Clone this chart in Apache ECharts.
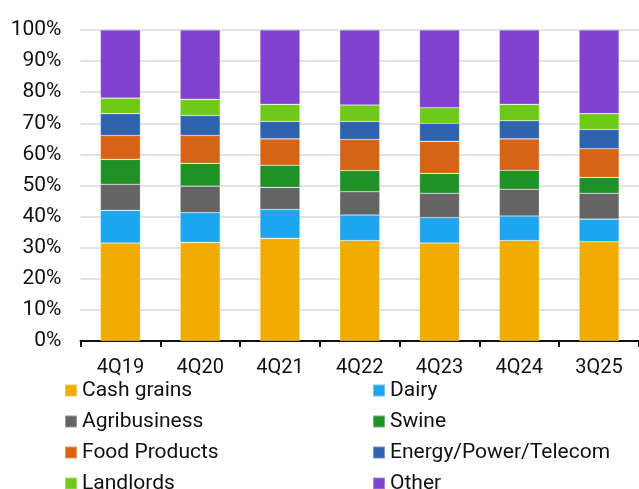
<!DOCTYPE html>
<html>
<head>
<meta charset="utf-8">
<script src="https://cdn.jsdelivr.net/npm/echarts@6/dist/echarts.min.js"></script>
<style>
  html, body { margin: 0; padding: 0; background: #fff; }
  #chart { width: 639px; height: 489px; }
</style>
</head>
<body>
<div id="chart"></div>
<script>
// Loan portfolio mix by sector, share of total (%)
const quarters = ['4Q19', '4Q20', '4Q21', '4Q22', '4Q23', '4Q24', '3Q25'];
const cashGrains  = [31.5, 31.7, 33.0, 32.3, 31.5, 32.3, 31.9];
const dairy       = [10.5,  9.6,  9.3,  8.2,  8.2,  7.9,  7.3];
const agribusiness= [ 8.4,  8.5,  7.1,  7.5,  7.8,  8.6,  8.3];
const swine       = [ 8.0,  7.3,  7.1,  6.8,  6.4,  6.1,  5.1];
const foodProducts= [ 7.7,  9.0,  8.5, 10.0, 10.3, 10.1,  9.2];
const energy      = [ 7.0,  6.4,  5.6,  5.8,  5.8,  5.8,  6.2];
const landlords   = [ 5.0,  5.2,  5.5,  5.3,  5.0,  5.3,  5.1];
const other       = [21.9, 22.3, 23.9, 24.1, 25.0, 23.9, 26.9];

const yTicks = [0, 10, 20, 30, 40, 50, 60, 70, 80, 90, 100];

const seriesDefs = [
  { name: 'Cash grains', data: cashGrains, color: '#F0AC00' },
  { name: 'Dairy', data: dairy, color: '#1EA5F0' },
  { name: 'Agribusiness', data: agribusiness, color: '#646464' },
  { name: 'Swine', data: swine, color: '#209127' },
  { name: 'Food Products', data: foodProducts, color: '#D66414' },
  { name: 'Energy/Power/Telecom', data: energy, color: '#2E63B0' },
  { name: 'Landlords', data: landlords, color: '#6FC918' },
  { name: 'Other', data: other, color: '#8042CF' }
];

const font = 'Roboto, "Liberation Sans", sans-serif';
const chart = echarts.init(document.getElementById('chart'), null, { renderer: 'canvas' });

const legendCommon = {
  orient: 'vertical',
  icon: 'rect',
  itemWidth: 12,
  itemHeight: 12,
  itemGap: 10,
  height: 130,
  selectedMode: false,
  textStyle: { fontFamily: font, fontSize: 21, color: '#111', lineHeight: 20 }
};

chart.setOption({
  animation: false,
  backgroundColor: '#ffffff',
  grid: { left: 80.5, top: 30, width: 567, height: 311 },
  legend: [
    Object.assign({ left: 59, top: 375,
      data: ['Cash grains', 'Agribusiness', 'Food Products', 'Landlords'] }, legendCommon),
    Object.assign({ left: 367, top: 375,
      data: ['Dairy', 'Swine', 'Energy/Power/Telecom', 'Other'] }, legendCommon)
  ],
  xAxis: {
    type: 'category',
    data: quarters,
    axisLine: { lineStyle: { color: '#111', width: 2 } },
    axisTick: { show: true, length: 6, lineStyle: { color: '#111', width: 2 } },
    axisLabel: { fontFamily: font, fontSize: 20, color: '#111', margin: 17 }
  },
  yAxis: {
    type: 'value',
    min: yTicks[0],
    max: yTicks[yTicks.length - 1],
    interval: 10,
    axisLine: { show: false },
    axisTick: { show: false },
    splitLine: { lineStyle: { color: '#d9d9d9', width: 1.5 } },
    axisLabel: { fontFamily: font, fontSize: 21, color: '#111', margin: 19, formatter: '{value}%' }
  },
  series: seriesDefs.map(s => ({
    name: s.name,
    type: 'bar',
    stack: 'total',
    data: s.data,
    barWidth: 40,
    itemStyle: { color: s.color, borderColor: 'rgba(255,255,255,0.35)', borderWidth: 0.6 }
  }))
});
</script>
</body>
</html>
